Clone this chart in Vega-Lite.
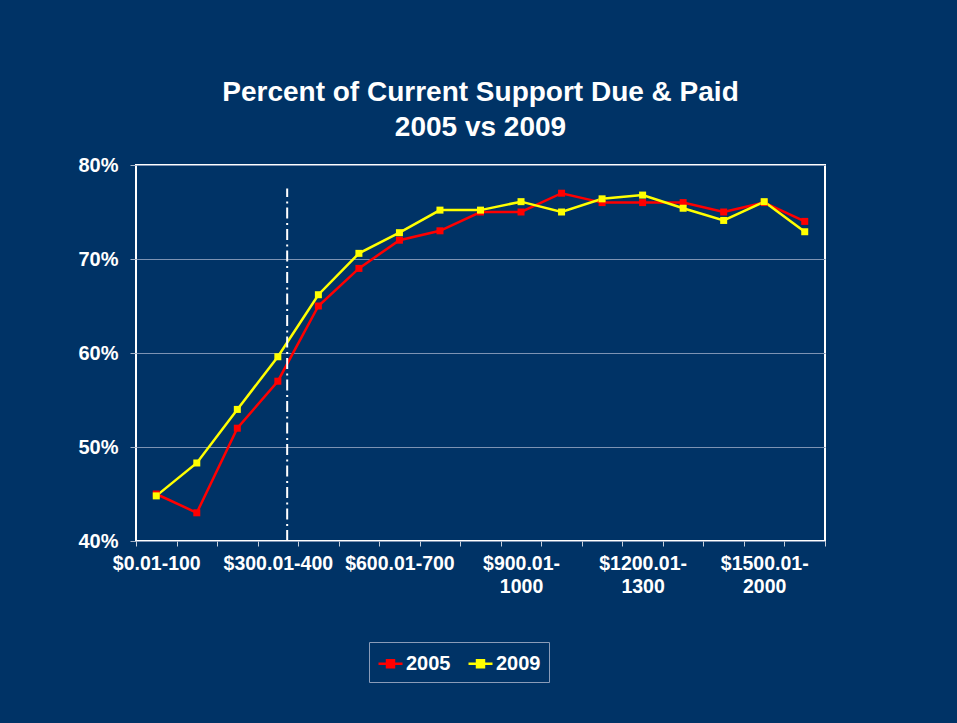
{
  "$schema": "https://vega.github.io/schema/vega-lite/v6.json",
  "width": 689,
  "height": 376,
  "autosize": {"type": "none"},
  "padding": {"left": 136, "top": 165, "right": 132, "bottom": 182},
  "background": "#003366",
  "title": {
    "text": ["Percent of Current Support Due & Paid", "2005 vs 2009"],
    "font": "Liberation Sans",
    "fontSize": 28,
    "fontWeight": "bold",
    "color": "#ffffff",
    "lineHeight": 35,
    "anchor": "middle",
    "offset": 13
  },
  "config": {
    "view": {"stroke": "#ffffff", "strokeWidth": 2},
    "font": "Liberation Sans"
  },
  "datasets": {
    "paid": [
      {"band": "$0.01-100", "year": "2005", "pct": 45.0},
      {"band": "$100.01-200", "year": "2005", "pct": 43.0},
      {"band": "$200.01-300", "year": "2005", "pct": 52.0},
      {"band": "$300.01-400", "year": "2005", "pct": 57.0},
      {"band": "$400.01-500", "year": "2005", "pct": 65.0},
      {"band": "$500.01-600", "year": "2005", "pct": 69.0},
      {"band": "$600.01-700", "year": "2005", "pct": 72.0},
      {"band": "$700.01-800", "year": "2005", "pct": 73.0},
      {"band": "$800.01-900", "year": "2005", "pct": 75.0},
      {"band": "$900.01-1000", "year": "2005", "pct": 75.0},
      {"band": "$1000.01-1100", "year": "2005", "pct": 77.0},
      {"band": "$1100.01-1200", "year": "2005", "pct": 76.0},
      {"band": "$1200.01-1300", "year": "2005", "pct": 76.0},
      {"band": "$1300.01-1400", "year": "2005", "pct": 76.0},
      {"band": "$1400.01-1500", "year": "2005", "pct": 75.0},
      {"band": "$1500.01-2000", "year": "2005", "pct": 76.0},
      {"band": "$2000.01+", "year": "2005", "pct": 74.0},
      {"band": "$0.01-100", "year": "2009", "pct": 44.8},
      {"band": "$100.01-200", "year": "2009", "pct": 48.3},
      {"band": "$200.01-300", "year": "2009", "pct": 54.0},
      {"band": "$300.01-400", "year": "2009", "pct": 59.6},
      {"band": "$400.01-500", "year": "2009", "pct": 66.2},
      {"band": "$500.01-600", "year": "2009", "pct": 70.6},
      {"band": "$600.01-700", "year": "2009", "pct": 72.8},
      {"band": "$700.01-800", "year": "2009", "pct": 75.2},
      {"band": "$800.01-900", "year": "2009", "pct": 75.2},
      {"band": "$900.01-1000", "year": "2009", "pct": 76.1},
      {"band": "$1000.01-1100", "year": "2009", "pct": 75.0},
      {"band": "$1100.01-1200", "year": "2009", "pct": 76.4},
      {"band": "$1200.01-1300", "year": "2009", "pct": 76.8},
      {"band": "$1300.01-1400", "year": "2009", "pct": 75.4},
      {"band": "$1400.01-1500", "year": "2009", "pct": 74.1},
      {"band": "$1500.01-2000", "year": "2009", "pct": 76.1},
      {"band": "$2000.01+", "year": "2009", "pct": 72.9}
    ],
    "marker": [
      {"band": "$300.01-400", "lo": 40, "hi": 77.5}
    ]
  },
  "encoding": {
    "x": {
      "field": "band",
      "type": "nominal",
      "sort": ["$0.01-100", "$100.01-200", "$200.01-300", "$300.01-400", "$400.01-500", "$500.01-600", "$600.01-700", "$700.01-800", "$800.01-900", "$900.01-1000", "$1000.01-1100", "$1100.01-1200", "$1200.01-1300", "$1300.01-1400", "$1400.01-1500", "$1500.01-2000", "$2000.01+"],
      "scale": {"type": "band", "paddingInner": 0, "paddingOuter": 0},
      "axis": {
        "title": null,
        "domain": false,
        "grid": false,
        "tickBand": "extent",
        "tickSize": 5,
        "tickColor": "#c8d0dc",
        "tickWidth": 1,
        "labelAngle": 0,
        "labelOverlap": false,
        "labelFont": "Liberation Sans",
        "labelFontSize": 19.5,
        "labelFontWeight": "bold",
        "labelColor": "#ffffff",
        "labelPadding": 8,
        "labelLineHeight": 23,
        "labelExpr": "indexof(['$0.01-100','$300.01-400','$600.01-700'], datum.value) >= 0 ? datum.value : datum.value == '$900.01-1000' ? ['$900.01-','1000'] : datum.value == '$1200.01-1300' ? ['$1200.01-','1300'] : datum.value == '$1500.01-2000' ? ['$1500.01-','2000'] : ''"
      }
    }
  },
  "layer": [
    {
      "data": {"name": "paid"},
      "mark": {
        "type": "line",
        "strokeWidth": 2.5,
        "point": {"shape": "square", "size": 49, "filled": true, "opacity": 1}
      },
      "encoding": {
        "y": {
          "field": "pct",
          "type": "quantitative",
          "scale": {"domain": [40, 80], "nice": false, "zero": false},
          "axis": {
            "title": null,
            "values": [40, 50, 60, 70, 80],
            "labelExpr": "datum.value + '%'",
            "labelFont": "Liberation Sans",
            "labelFontSize": 20,
            "labelFontWeight": "bold",
            "labelColor": "#ffffff",
            "labelPadding": 12,
            "tickSize": 6,
            "tickColor": "#a8b6ca",
            "domain": false,
            "grid": true,
            "gridColor": "#7d93b3",
            "gridWidth": 1
          }
        },
        "color": {
          "field": "year",
          "type": "nominal",
          "scale": {"domain": ["2005", "2009"], "range": ["#ff0000", "#ffff00"]},
          "legend": {
            "title": null,
            "orient": "none",
            "legendX": 233,
            "legendY": 477,
            "direction": "horizontal",
            "strokeColor": "#8a9cb8",
            "padding": 8,
            "symbolType": "M-1,0H1M-0.29,-0.29H0.29V0.29H-0.29Z",
            "symbolSize": 576,
            "symbolStrokeWidth": 2.5,
            "labelFont": "Liberation Sans",
            "labelFontSize": 20,
            "labelFontWeight": "bold",
            "labelColor": "#ffffff",
            "labelOffset": 2,
            "columnPadding": 12,
            "encode": {
              "symbols": {
                "update": {
                  "fill": {"scale": "color", "field": "value"},
                  "stroke": {"scale": "color", "field": "value"},
                  "opacity": {"value": 1}
                }
              }
            }
          }
        }
      }
    },
    {
      "data": {"name": "marker"},
      "mark": {"type": "rule", "color": "#ffffff", "strokeWidth": 2, "strokeDash": [11, 4, 2, 4.5]},
      "encoding": {
        "x": {"field": "band", "type": "nominal", "bandPosition": 0.73},
        "y": {"field": "lo", "type": "quantitative"},
        "y2": {"field": "hi"}
      }
    }
  ]
}
